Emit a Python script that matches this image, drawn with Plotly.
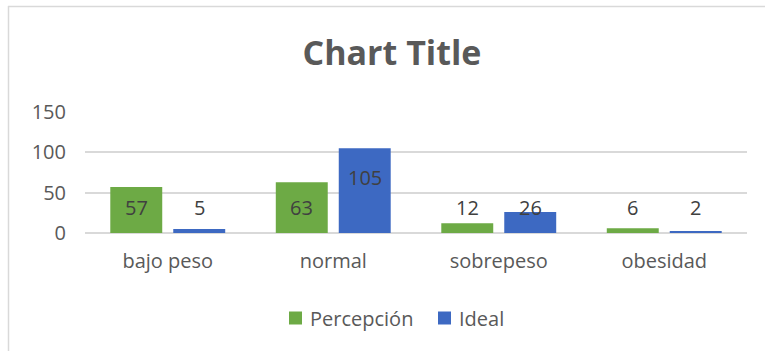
import plotly.graph_objects as go

# Data
categories = ["bajo peso", "normal", "sobrepeso", "obesidad"]
series_names = ["Percepción", "Ideal"]
percepcion = [57, 63, 12, 6]
ideal = [5, 105, 26, 2]
y_ticks = [0, 50, 100, 150]

GREEN = "#6DAA45"
BLUE = "#3D69C2"
TEXT = "#404040"
AXIS_TEXT = "#595959"
GRID = "#D9D9D9"
FONT = "Open Sans"

fig = go.Figure()
fig.add_trace(go.Bar(name=series_names[0], x=categories, y=percepcion,
                     marker=dict(color=GREEN, line=dict(width=0)), showlegend=False))
fig.add_trace(go.Bar(name=series_names[1], x=categories, y=ideal,
                     marker=dict(color=BLUE, line=dict(width=0)), showlegend=False))

# Value labels: near the top inside tall bars, at a fixed low level otherwise
def label_y(v):
    return max(v - 36, 31)

for series, shift in ((percepcion, -31.5), (ideal, 31.5)):
    for cat, v in zip(categories, series):
        fig.add_annotation(x=cat, y=label_y(v), text=str(v), showarrow=False,
                           xshift=shift, yanchor="middle",
                           font=dict(family=FONT, size=20, color=TEXT))

# Pixel -> paper helpers
L, R, T, B, W, H = 85, 18, 112, 118, 765, 351
pw, ph = W - L - R, H - T - B
def px(xp):
    return (xp - L) / pw
def py(yp):
    return (H - B - yp) / ph

# Chart frame (top and left edges)
fig.add_shape(type="line", xref="paper", yref="paper",
              x0=px(8), x1=px(765), y0=py(6.5), y1=py(6.5),
              line=dict(color=GRID, width=1.5))
fig.add_shape(type="line", xref="paper", yref="paper",
              x0=px(8.5), x1=px(8.5), y0=py(6), y1=py(351),
              line=dict(color=GRID, width=1.5))

# Legend: square swatch followed by series name
legend_items = [(series_names[0], GREEN, 289), (series_names[1], BLUE, 438)]
for name, color, x0 in legend_items:
    fig.add_shape(type="rect", xref="paper", yref="paper",
                  x0=px(x0), x1=px(x0 + 13), y0=py(311.5), y1=py(324.5),
                  fillcolor=color, line=dict(width=0))
    fig.add_annotation(xref="paper", yref="paper", x=px(x0 + 19), y=py(318),
                       text=name, showarrow=False, xanchor="left", yanchor="middle",
                       font=dict(family=FONT, size=20, color=AXIS_TEXT))

fig.update_layout(
    width=W, height=H,
    margin=dict(l=L, r=R, t=T, b=B),
    paper_bgcolor="white", plot_bgcolor="white",
    barmode="group", bargap=0.239, bargroupgap=0.175,
    showlegend=False,
    title=dict(text="<b>Chart Title</b>", x=392 / W, xref="container",
               y=1 - 53 / H, yref="container", xanchor="center", yanchor="middle",
               font=dict(family=FONT, size=34, color="#595959")),
    xaxis=dict(showgrid=False, showline=False, zeroline=False,
               tickfont=dict(family=FONT, size=20, color=AXIS_TEXT),
               ticks="", ticklabelstandoff=14),
    yaxis=dict(range=[0, 150], tickvals=y_ticks, showgrid=True,
               gridcolor=GRID, gridwidth=1.5, zeroline=True,
               zerolinecolor=GRID, zerolinewidth=1.5, showline=False,
               tickfont=dict(family=FONT, size=20, color=AXIS_TEXT),
               ticks="", ticklabelstandoff=18),
)

fig.write_html("out.html")
